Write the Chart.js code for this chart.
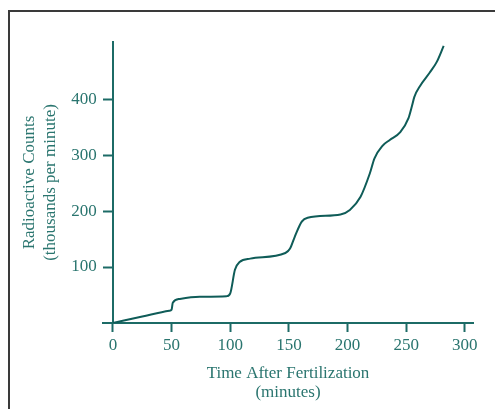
<!DOCTYPE html>
<html>
<head>
<meta charset="utf-8">
<script src="https://cdn.jsdelivr.net/npm/chart.js@4.4.1/dist/chart.umd.min.js"></script>
<style>
  html, body { margin: 0; padding: 0; background: #fff; overflow: hidden; }
  #frame {
    position: absolute; left: 8px; top: 10px; width: 700px; height: 700px;
    border-left: 2px solid #3a3a3a; border-top: 2px solid #3a3a3a;
  }
  #wrap { position: absolute; left: 0; top: 0; width: 495px; height: 409px; }
</style>
</head>
<body>
<div id="frame"></div>
<div id="wrap"><canvas id="myChart" width="495" height="409"></canvas></div>
<script>
// minutes after fertilization
const times = [0, 25, 48, 50, 51, 57, 74, 97, 100, 104, 108, 117, 147, 151, 155, 161, 166, 194, 202, 211, 219, 223, 230, 236, 245, 252, 255, 257, 262, 270, 276, 282];
// radioactive counts (thousands per minute)
const counts = [0, 11.5, 22, 24, 36, 43, 47, 48, 53, 95, 109, 115, 125, 133, 154, 181, 188, 194, 202, 225, 267, 294, 317, 327, 341, 366, 388, 404, 424, 447, 466, 495];

const xTicks = [0, 50, 100, 150, 200, 250, 300];
const yTicks = [100, 200, 300, 400];

const axisColor = "#1c6b66";
const textColor = "#2a756f";
const lineColor = "#0f5c58";
const serif = "'Liberation Serif', 'Times New Roman', serif";

// y title drawn by hand so it reads bottom-to-top next to the axis
const yTitle = {
  id: "yTitle",
  afterDraw(chart) {
    const ctx = chart.ctx;
    const midY = (chart.chartArea.top + chart.chartArea.bottom) / 2;
    ctx.save();
    ctx.fillStyle = textColor;
    ctx.font = "17px " + serif;
    ctx.textAlign = "center";
    ctx.textBaseline = "middle";
    ctx.translate(30, midY);
    ctx.rotate(-Math.PI / 2);
    ctx.fillText("Radioactive Counts", 0, 0);
    ctx.fillText("(thousands per minute)", 0, 21);
    ctx.restore();
  }
};

const ctx = document.getElementById("myChart").getContext("2d");
const myChart = new Chart(ctx, {
  type: "line",
  data: {
    datasets: [{
      data: times.map((t, i) => ({ x: t, y: counts[i] })),
      borderColor: lineColor,
      borderWidth: 2,
      pointRadius: 0,
      cubicInterpolationMode: "monotone",
      fill: false
    }]
  },
  options: {
    responsive: false,
    animation: false,
    layout: { padding: { left: 103, top: 42, right: 22, bottom: 0 } },
    plugins: { legend: { display: false }, tooltip: { enabled: false } },
    scales: {
      x: {
        type: "linear",
        min: -8.5,
        max: 307,
        afterBuildTicks(s) { s.ticks = xTicks.map(v => ({ value: v })); },
        afterFit(s) { s.height = 86; },
        grid: { drawOnChartArea: false, tickLength: 9, tickWidth: 2, tickColor: axisColor },
        border: { display: true, color: axisColor, width: 2 },
        ticks: { color: textColor, font: { family: serif, size: 17 }, padding: 3, maxRotation: 0 },
        title: {
          display: true,
          text: ["Time After Fertilization", "(minutes)"],
          color: textColor,
          font: { family: serif, size: 17, lineHeight: 1.1 },
          padding: { top: 0, bottom: 7 }
        }
      },
      y: {
        position: { x: 0 },
        min: 0,
        max: 502,
        afterBuildTicks(s) { s.ticks = yTicks.map(v => ({ value: v })); },
        grid: { drawOnChartArea: false, tickLength: 9, tickWidth: 2, tickColor: axisColor },
        border: { display: true, color: axisColor, width: 2 },
        // labels sit right on the axis for a value-positioned axis, so pad with spaces
        ticks: {
          color: textColor,
          font: { family: serif, size: 17 },
          callback: v => v + "\u2002 \u2009"
        }
      }
    }
  },
  plugins: [yTitle]
});
</script>
</body>
</html>
